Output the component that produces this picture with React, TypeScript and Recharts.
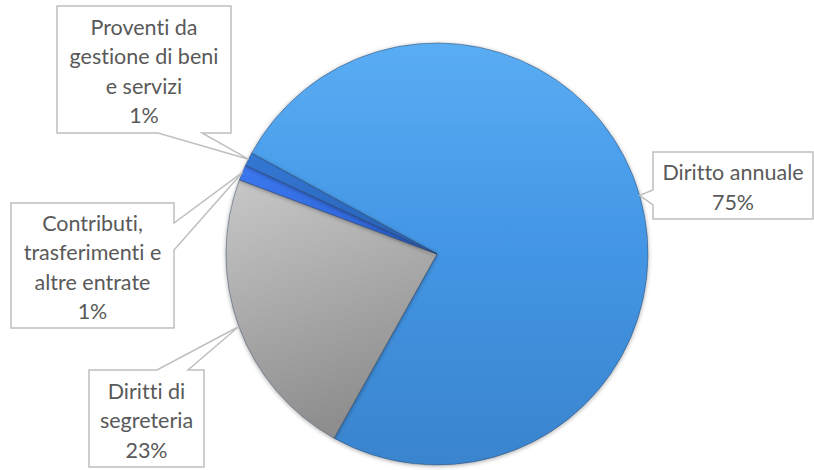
import { PieChart, Pie, Cell } from "recharts";

const categories = [
  "Diritto annuale",
  "Diritti di segreteria",
  "Contributi, trasferimenti e altre entrate",
  "Proventi da gestione di beni e servizi",
];
const values = [75.2, 22.6, 1.2, 1.0];
const labelLines = [
  ["Diritto annuale"],
  ["Diritti di", "segreteria"],
  ["Contributi,", "trasferimenti e", "altre entrate"],
  ["Proventi da", "gestione di beni", "e servizi"],
];

const data = categories.map((name, i) => ({ name, value: values[i] }));

const fills = ["url(#gBlue)", "url(#gGrey)", "url(#gBright)", "url(#gDark)"];

// callout boxes: rect + which side the wedge leaves from (a,b = wedge base)
const callouts = [
  { x: 653, y: 152, w: 160, h: 67, side: "left", a: 190, b: 205 },
  { x: 89, y: 370, w: 115, h: 97, side: "top", a: 157, b: 188 },
  { x: 11, y: 203, w: 163, h: 125, side: "right", a: 223, b: 250 },
  { x: 57, y: 6, w: 174, h: 127, side: "bottom", a: 158, b: 202 },
];

const RADIAN = Math.PI / 180;

function calloutPath(c: any, tx: number, ty: number) {
  const { x, y, w, h, a, b } = c;
  const r = x + w;
  const btm = y + h;
  if (c.side === "bottom")
    return `M${x},${y}H${r}V${btm}H${b}L${tx},${ty}L${a},${btm}H${x}Z`;
  if (c.side === "top")
    return `M${x},${y}H${a}L${tx},${ty}L${b},${y}H${r}V${btm}H${x}Z`;
  if (c.side === "left")
    return `M${x},${y}H${r}V${btm}H${x}V${b}L${tx},${ty}L${x},${a}Z`;
  return `M${x},${y}H${r}V${a}L${tx},${ty}L${r},${b}V${btm}H${x}Z`;
}

function renderLabel(props: any) {
  const { cx, cy, midAngle, outerRadius, percent, index } = props;
  const c = callouts[index];
  const tx = cx + outerRadius * Math.cos(-midAngle * RADIAN);
  const ty = cy + outerRadius * Math.sin(-midAngle * RADIAN);
  const lines = [...labelLines[index], `${Math.round(percent * 100)}%`];
  const step = 29.5;
  const midY = c.y + c.h / 2 + 1.5;
  const startY = midY - ((lines.length - 1) * step) / 2;
  return (
    <g key={`lbl-${index}`}>
      <path d={calloutPath(c, tx, ty)} fill="#ffffff" stroke="#BFBFBF" strokeWidth={1.5} />
      {lines.map((t, i) => (
        <text
          key={i}
          x={c.x + c.w / 2}
          y={startY + i * step}
          textAnchor="middle"
          dominantBaseline="central"
          fill="#595959"
          fontSize={21.5}
          fontFamily="Lato, 'Open Sans', sans-serif"
          style={{ fontVariantLigatures: "none" }}
        >
          {t}
        </text>
      ))}
    </g>
  );
}

export default function App() {
  return (
    <div style={{ position: "absolute", left: 0, top: 0, background: "#fff" }}>
      <PieChart width={814} height={470} margin={{ top: 0, right: 0, bottom: 0, left: 0 }}>
        <defs>
          <linearGradient id="gBlue" x1="0" y1="0" x2="0" y2="1">
            <stop offset="0%" stopColor="#5AADF3" />
            <stop offset="45%" stopColor="#4497E6" />
            <stop offset="100%" stopColor="#3A84CE" />
          </linearGradient>
          <linearGradient id="gGrey" x1="0" y1="0" x2="0.3" y2="1">
            <stop offset="0%" stopColor="#C8C8C8" />
            <stop offset="100%" stopColor="#8E8E8E" />
          </linearGradient>
          <linearGradient id="gBright" x1="0" y1="0" x2="1" y2="1">
            <stop offset="0%" stopColor="#3B78F0" />
            <stop offset="100%" stopColor="#2A5FD0" />
          </linearGradient>
          <linearGradient id="gDark" x1="0" y1="0" x2="1" y2="1">
            <stop offset="0%" stopColor="#3478D4" />
            <stop offset="100%" stopColor="#2660B4" />
          </linearGradient>
          <filter id="pieShadow" x="-10%" y="-10%" width="120%" height="120%">
            <feDropShadow dx="0" dy="1" stdDeviation="2" floodColor="#000" floodOpacity="0.35" />
          </filter>
        </defs>
        <Pie
          data={data}
          dataKey="value"
          nameKey="name"
          cx={437}
          cy={254}
          outerRadius={211}
          startAngle={151.5}
          endAngle={-208.5}
          stroke="rgba(40,60,90,0.45)"
          strokeWidth={1}
          label={renderLabel}
          labelLine={false}
          isAnimationActive={false}
        >
          {data.map((d, i) => (
            <Cell key={d.name} fill={fills[i]} filter="url(#pieShadow)" />
          ))}
        </Pie>
      </PieChart>
    </div>
  );
}
